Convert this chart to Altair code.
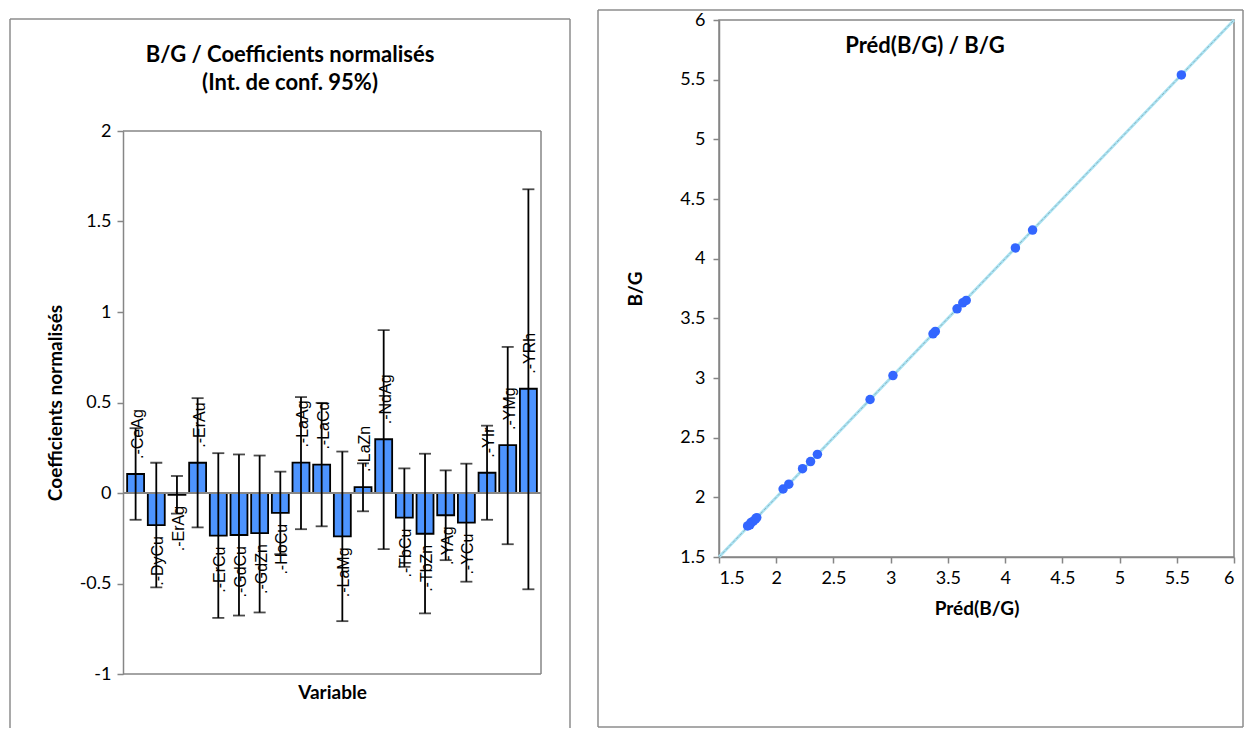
import altair as alt
import pandas as pd

# Normalised regression coefficients for B/G with 95% confidence bounds
variables = ["CeAg", "DyCu", "ErAg", "ErAu", "ErCu", "GdCu", "GdZn", "HoCu", "LaAg", "LaCd",
             "LaMg", "LaZn", "NdAg", "TbCu", "TbZn", "YAg", "YCu", "YIr", "YMg", "YRh"]
coef = [0.105, -0.177, -0.010, 0.167, -0.235, -0.232, -0.222, -0.110, 0.168, 0.157,
        -0.240, 0.033, 0.297, -0.136, -0.225, -0.123, -0.164, 0.112, 0.265, 0.576]
ci_low = [-0.148, -0.521, -0.114, -0.190, -0.690, -0.677, -0.660, -0.338, -0.200, -0.184,
          -0.708, -0.101, -0.310, -0.408, -0.665, -0.371, -0.490, -0.148, -0.283, -0.532]
ci_high = [0.358, 0.167, 0.094, 0.524, 0.220, 0.213, 0.207, 0.118, 0.530, 0.498,
           0.229, 0.164, 0.900, 0.136, 0.217, 0.125, 0.162, 0.372, 0.807, 1.678]

# Predicted vs observed B/G
pred = [1.75, 1.77, 1.78, 1.80, 1.82, 1.83, 2.06, 2.11, 2.23, 2.30, 2.36,
        2.82, 3.02, 3.37, 3.39, 3.58, 3.63, 3.66, 4.09, 4.24, 5.54]
obs = [1.76, 1.77, 1.79, 1.80, 1.82, 1.83, 2.07, 2.11, 2.24, 2.30, 2.36,
       2.82, 3.02, 3.37, 3.39, 3.58, 3.63, 3.65, 4.09, 4.24, 5.54]
diag = [1.5, 6.0]

coef_ticks = [-1, -0.5, 0, 0.5, 1, 1.5, 2]
bg_ticks = [1.5, 2, 2.5, 3, 3.5, 4, 4.5, 5, 5.5, 6]

GRAY = "#868686"
FONT = "Lato"
LABEL_FONT = "Liberation Sans"

coef_df = pd.DataFrame({
    "Variable": variables,
    "coef": coef,
    "low": ci_low,
    "high": ci_high,
    "label": [".-" + v for v in variables],
})
one = pd.DataFrame({"k": [0]})

# ---------- left panel: coefficient bars ----------
# The view starts level with the right panel; the value axis occupies its lower part.
LW, LH = 418, 654
AX_TOP = 111
x_enc = alt.X(
    "Variable:N", sort=variables,
    scale=alt.Scale(paddingInner=0.18, paddingOuter=0.2),
    axis=alt.Axis(title="Variable", labels=False, ticks=False, domain=False,
                  titlePadding=9, titleFontSize=19),
)
y_scale = alt.Scale(domain=[-1, 2], range=[LH, AX_TOP], nice=False)
y_axis = alt.Axis(values=coef_ticks, labelExpr="toString(datum.value)",
                  title="Coefficients normalisés", titlePadding=14, titleFontSize=19,
                  labelPadding=6)

base = alt.Chart(coef_df)
bars = base.mark_bar(color="#4d94ff", stroke="black", strokeWidth=1.8).encode(
    x=x_enc, y=alt.Y("coef:Q", scale=y_scale, axis=y_axis)
)
err = base.mark_rule(color="black", strokeWidth=1.8).encode(
    x=alt.X("Variable:N", sort=variables), y="low:Q", y2="high:Q"
)
cap_lo = base.mark_tick(color="black", thickness=1.8, size=12).encode(
    x=alt.X("Variable:N", sort=variables), y="low:Q"
)
cap_hi = base.mark_tick(color="black", thickness=1.8, size=12).encode(
    x=alt.X("Variable:N", sort=variables), y="high:Q"
)
zero = alt.Chart(one).mark_rule(color=GRAY, strokeWidth=2).encode(y=alt.datum(0))

lab_pos = base.transform_filter("datum.coef >= 0").mark_text(
    angle=270, align="left", baseline="middle", dx=15, dy=2,
    font=LABEL_FONT, fontSize=16, color="black"
).encode(x=alt.X("Variable:N", sort=variables), y="coef:Q", text="label:N")
lab_neg = base.transform_filter("datum.coef < 0").mark_text(
    angle=270, align="right", baseline="middle", dx=-11, dy=2,
    font=LABEL_FONT, fontSize=16, color="black"
).encode(x=alt.X("Variable:N", sort=variables), y="coef:Q", text="label:N")

title_style = dict(font=FONT, fontSize=22, fontWeight="bold", color="black",
                   align="center", baseline="middle")
left_title1 = alt.Chart(one).mark_text(**title_style).encode(
    x=alt.value(167), y=alt.value(35), text=alt.value("B/G / Coefficients normalisés"))
left_title2 = alt.Chart(one).mark_text(**title_style).encode(
    x=alt.value(167), y=alt.value(63), text=alt.value("(Int. de conf. 95%)"))

# plot box of the value axis (left edge is the axis line)
box_style = dict(color=GRAY, strokeWidth=1.5)
box_top = alt.Chart(one).mark_rule(**box_style).encode(
    x=alt.value(0), x2=alt.value(LW), y=alt.value(AX_TOP))
box_right = alt.Chart(one).mark_rule(**box_style).encode(
    x=alt.value(LW), y=alt.value(AX_TOP), y2=alt.value(LH))
box_bottom = alt.Chart(one).mark_rule(**box_style).encode(
    x=alt.value(0), x2=alt.value(LW), y=alt.value(LH))

frame_style = dict(color="#8c8c8c", strokeWidth=1.5)
lf_left = alt.Chart(one).mark_rule(**frame_style).encode(
    x=alt.value(-113), y=alt.value(-1), y2=alt.value(708))
lf_right = alt.Chart(one).mark_rule(**frame_style).encode(
    x=alt.value(447), y=alt.value(-1), y2=alt.value(708))
lf_top = alt.Chart(one).mark_rule(**frame_style).encode(
    x=alt.value(-113), x2=alt.value(447), y=alt.value(-1))

left = alt.layer(
    lf_left, lf_right, lf_top, left_title1, left_title2,
    bars, zero, err, cap_lo, cap_hi, lab_pos, lab_neg,
    box_top, box_right, box_bottom
).properties(width=LW, height=LH, view=alt.ViewBackground(strokeOpacity=0))

# ---------- right panel: predicted vs observed ----------
RW, RH = 515, 537
pts_df = pd.DataFrame({"pred": pred, "obs": obs})
diag_df = pd.DataFrame({"pred": diag, "obs": diag})
sx = alt.Scale(domain=[1.5, 6], nice=False)
sy = alt.Scale(domain=[1.5, 6], nice=False)
ax_x = alt.Axis(values=bg_ticks, labelExpr="toString(datum.value)", title="Préd(B/G)",
                titleFontSize=19, labelPadding=6, titlePadding=12)
ax_y = alt.Axis(values=bg_ticks, labelExpr="toString(datum.value)", title="B/G",
                titleFontSize=19, labelPadding=8, titlePadding=34)

line_blue = alt.Chart(diag_df).mark_line(color="#a9e3f3", strokeWidth=3).encode(
    x=alt.X("pred:Q", scale=sx, axis=ax_x), y=alt.Y("obs:Q", scale=sy, axis=ax_y))
line_thin = alt.Chart(diag_df).mark_line(color="#6f6f6f", strokeWidth=0.7, opacity=0.6,
                                         strokeDash=[3, 2]).encode(x="pred:Q", y="obs:Q")
points = alt.Chart(pts_df).mark_circle(size=90, color="#3366ff", opacity=1).encode(
    x="pred:Q", y="obs:Q")

right_title = alt.Chart(one).mark_text(font=FONT, fontSize=22, fontWeight="bold",
                                       color="black", align="center", baseline="middle").encode(
    x=alt.value(206), y=alt.value(26), text=alt.value("Préd(B/G) / B/G"))

rf_left = alt.Chart(one).mark_rule(**frame_style).encode(
    x=alt.value(-121), y=alt.value(-10), y2=alt.value(707))
rf_right = alt.Chart(one).mark_rule(**frame_style).encode(
    x=alt.value(524), y=alt.value(-10), y2=alt.value(707))
rf_top = alt.Chart(one).mark_rule(**frame_style).encode(
    x=alt.value(-121), x2=alt.value(524), y=alt.value(-10))
rf_bottom = alt.Chart(one).mark_rule(**frame_style).encode(
    x=alt.value(-121), x2=alt.value(524), y=alt.value(707))

right = alt.layer(
    rf_left, rf_right, rf_top, rf_bottom, line_blue, line_thin, points, right_title
).properties(width=RW, height=RH)

chart = alt.hconcat(left, right, spacing=25).properties(
    padding={"left": 9, "top": 8, "right": 0, "bottom": 0},
    background="white",
).configure_view(
    stroke=GRAY, strokeWidth=1.5
).configure_axis(
    labelFont=FONT, labelFontSize=18, labelColor="black",
    titleFont=FONT, titleFontWeight="bold", titleColor="black",
    tickColor=GRAY, tickSize=6, tickWidth=1.5,
    domainColor=GRAY, domainWidth=1.5, grid=False,
)

chart.save("out.html", embed_options={"renderer": "svg", "actions": False})
